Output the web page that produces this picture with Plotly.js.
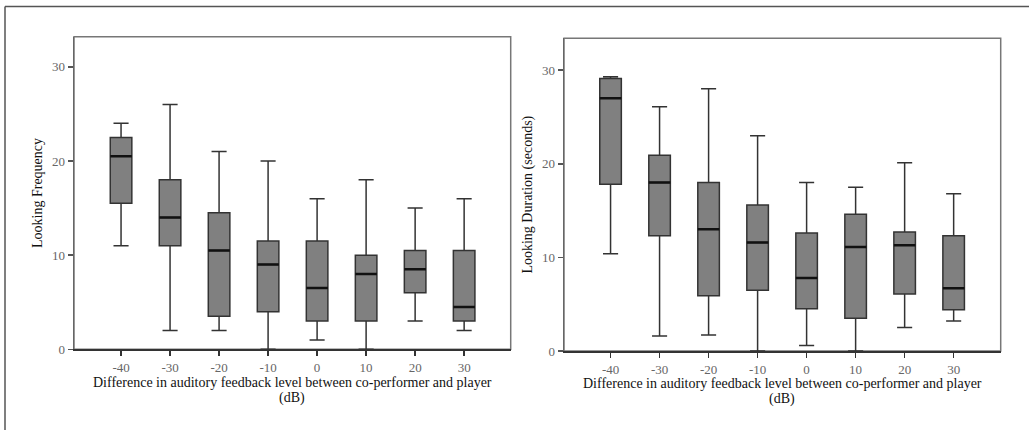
<!DOCTYPE html>
<html>
<head>
<meta charset="utf-8">
<script src="https://cdn.plot.ly/plotly-3.0.1.min.js"></script>
<style>
  html, body { margin: 0; padding: 0; background: #ffffff; }
  #chart { width: 1029px; height: 430px; }
</style>
</head>
<body>
<div id="chart"></div>
<script>
// Category labels (dB difference)
const categories = ['-40', '-30', '-20', '-10', '0', '10', '20', '30'];

// Looking Frequency (left panel)
const freqLower  = [11, 2, 2, 0, 1, 0, 3, 2];
const freqQ1     = [15.5, 11, 3.5, 4, 3, 3, 6, 3];
const freqMedian = [20.5, 14, 10.5, 9, 6.5, 8, 8.5, 4.5];
const freqQ3     = [22.5, 18, 14.5, 11.5, 11.5, 10, 10.5, 10.5];
const freqUpper  = [24, 26, 21, 20, 16, 18, 15, 16];

// Looking Duration in seconds (right panel)
const durLower  = [10.4, 1.6, 1.7, 0, 0.6, 0, 2.5, 3.2];
const durQ1     = [17.8, 12.3, 5.9, 6.5, 4.5, 3.5, 6.1, 4.4];
const durMedian = [27, 18, 13, 11.6, 7.8, 11.1, 11.3, 6.7];
const durQ3     = [29.1, 20.9, 18, 15.6, 12.6, 14.6, 12.7, 12.3];
const durUpper  = [29.3, 26.1, 28, 23, 18, 17.5, 20.1, 16.8];

const xTitleLine1 = 'Difference in auditory feedback level between co-performer and player';
const xTitleLine2 = '(dB)';
const yTitleLeft = 'Looking Frequency';
const yTitleRight = 'Looking Duration (seconds)';

const pos = categories.map((c, i) => i);
const BOX_W = 0.44;

function boxTrace(lower, q1, med, q3, upper, xa, ya) {
  return {
    type: 'box',
    x: pos,
    lowerfence: lower, q1: q1, median: med, q3: q3, upperfence: upper,
    width: BOX_W,
    whiskerwidth: 0.7,
    fillcolor: '#808080',
    line: { color: '#333333', width: 1.5 },
    boxpoints: false,
    xaxis: xa, yaxis: ya,
    showlegend: false,
    hoverinfo: 'skip'
  };
}

function medianTrace(med, xa, ya) {
  const xs = [], ys = [];
  med.forEach((m, i) => {
    xs.push(i - BOX_W / 2, i + BOX_W / 2, null);
    ys.push(m, m, null);
  });
  return {
    type: 'scatter', mode: 'lines',
    x: xs, y: ys,
    line: { color: '#111111', width: 2.5 },
    xaxis: xa, yaxis: ya,
    showlegend: false, hoverinfo: 'skip'
  };
}

const data = [
  boxTrace(freqLower, freqQ1, freqMedian, freqQ3, freqUpper, 'x', 'y'),
  medianTrace(freqMedian, 'x', 'y'),
  boxTrace(durLower, durQ1, durMedian, durQ3, durUpper, 'x2', 'y2'),
  medianTrace(durMedian, 'x2', 'y2')
];

const SERIF = '"Liberation Serif", "Times New Roman", serif';
const tickFont = { family: SERIF, size: 13, color: '#666666' };
const titleFont = { family: SERIF, size: 14, color: '#111111' };

function xAxis(domain, anchor, range) {
  return {
    domain: domain, anchor: anchor,
    range: range,
    tickmode: 'array', tickvals: pos, ticktext: categories,
    ticks: 'outside', ticklen: 5, tickwidth: 1.5, tickcolor: '#333333',
    showline: true, linecolor: '#333333', linewidth: 2,
    showgrid: false, zeroline: false,
    tickfont: tickFont
  };
}

function yAxis(domain, anchor, range, title) {
  return {
    domain: domain, anchor: anchor,
    range: range,
    tickvals: [0, 10, 20, 30],
    ticks: 'outside', ticklen: 5, tickwidth: 1.5, tickcolor: '#555555',
    showline: true, linecolor: '#666666', linewidth: 1.5,
    showgrid: false, zeroline: false,
    tickfont: tickFont,
    title: { text: title, font: titleFont, standoff: 6 }
  };
}

const leftDom = [74 / 1029, 510.7 / 1029];
const rightDom = [564 / 1029, 1000.7 / 1029];

function xTitleAnn(dom, text, yPx) {
  return { text: text, xref: 'paper', yref: 'paper', showarrow: false,
    x: (dom[0] + dom[1]) / 2, y: (430 - yPx) / 430, xanchor: 'center', yanchor: 'middle',
    font: titleFont };
}

const layout = {
  width: 1029, height: 430,
  margin: { l: 0, r: 0, t: 0, b: 0 },
  paper_bgcolor: '#ffffff', plot_bgcolor: '#ffffff',
  showlegend: false,
  xaxis: xAxis(leftDom, 'y', [-0.96, 7.95]),
  yaxis: yAxis([(430 - 349.3) / 430, (430 - 36.7) / 430], 'x', [0, 33.2], yTitleLeft),
  xaxis2: xAxis(rightDom, 'y2', [-0.95, 7.96]),
  yaxis2: yAxis([(430 - 351) / 430, (430 - 38.3) / 430], 'x2', [0, 33.4], yTitleRight),
  annotations: [
    xTitleAnn(leftDom, xTitleLine1, 382),
    xTitleAnn(leftDom, xTitleLine2, 398),
    xTitleAnn(rightDom, xTitleLine1, 383),
    xTitleAnn(rightDom, xTitleLine2, 399)
  ],
  shapes: [
    // frames of the two plot areas
    { type: 'rect', xref: 'x domain', yref: 'y domain', x0: 0, x1: 1, y0: 0, y1: 1,
      line: { color: '#777777', width: 1.5 }, layer: 'below' },
    { type: 'rect', xref: 'x2 domain', yref: 'y2 domain', x0: 0, x1: 1, y0: 0, y1: 1,
      line: { color: '#777777', width: 1.5 }, layer: 'below' },
    // outer figure border (top and left visible)
    { type: 'line', xref: 'paper', yref: 'paper', x0: 5 / 1029, x1: 1, y0: 1 - 6.5 / 430, y1: 1 - 6.5 / 430,
      line: { color: '#555555', width: 1.5 } },
    { type: 'line', xref: 'paper', yref: 'paper', x0: 5 / 1029, x1: 5 / 1029, y0: 0, y1: 1 - 6.5 / 430,
      line: { color: '#555555', width: 1.5 } }
  ]
};

Plotly.newPlot('chart', data, layout, { staticPlot: true, displayModeBar: false });
</script>
</body>
</html>
